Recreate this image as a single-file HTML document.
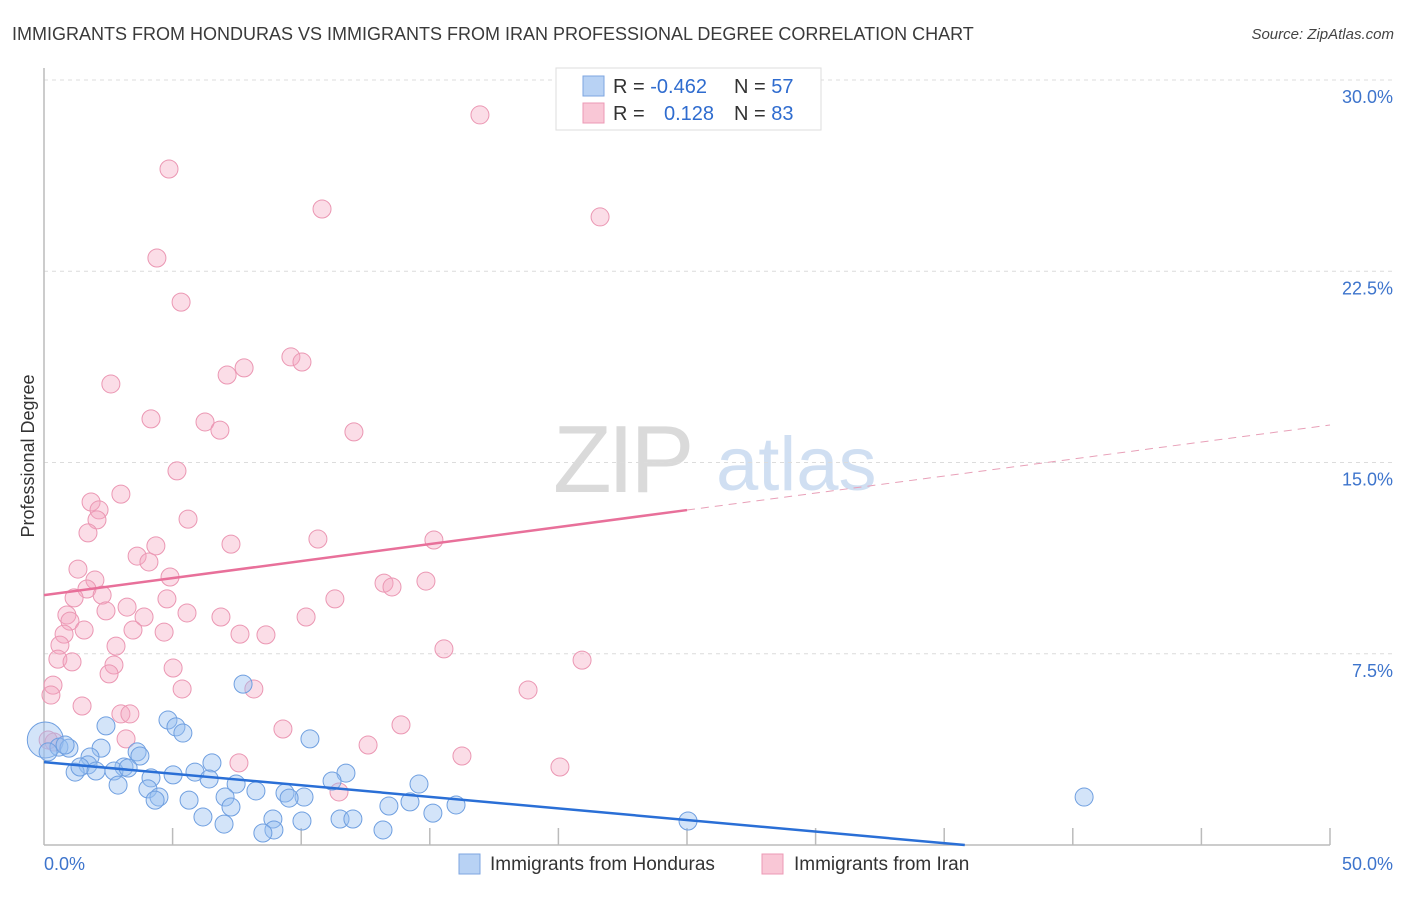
<!DOCTYPE html>
<html><head><meta charset="utf-8"><style>
body{margin:0;background:#fff;font-family:"Liberation Sans",sans-serif;}
svg text{font-family:"Liberation Sans",sans-serif;}
</style></head><body>
<svg id="chart" width="1406" height="892" viewBox="0 0 1406 892" xmlns="http://www.w3.org/2000/svg">
<text x="12" y="40" font-size="18" fill="#3a3a3a">IMMIGRANTS FROM HONDURAS VS IMMIGRANTS FROM IRAN PROFESSIONAL DEGREE CORRELATION CHART</text>
<text x="1394" y="39" font-size="15" fill="#444" font-style="italic" text-anchor="end">Source: ZipAtlas.com</text>
<text x="553" y="492" font-size="96" fill="#dadada" font-family="Liberation Serif, serif" letter-spacing="-4">ZIP</text>
<text x="716" y="490" font-size="76" fill="#d0dff2">atlas</text>
<g id="grid"></g>
<g id="axes"></g>
<text transform="translate(34,456) rotate(-90)" font-size="18" fill="#333" text-anchor="middle">Professional Degree</text>
<g id="marks"></g>
<g id="lines"></g>
<g>
<rect x="556" y="68" width="265" height="62" fill="#fff" stroke="#ddd"/>
<rect x="583" y="76" width="21" height="20" fill="#b8d2f4" stroke="#7ea6e0"/>
<rect x="583" y="103" width="21" height="20" fill="#f9c7d6" stroke="#ec9ab5"/>
<text x="613" y="93" font-size="20" fill="#333">R = <tspan fill="#2f6ccf">-0.462</tspan></text>
<text x="734" y="93" font-size="20" fill="#333">N = <tspan fill="#2f6ccf">57</tspan></text>
<text x="613" y="120" font-size="20" fill="#333">R = <tspan fill="#2f6ccf" x="664">0.128</tspan></text>
<text x="734" y="120" font-size="20" fill="#333">N = <tspan fill="#2f6ccf">83</tspan></text>
</g>
<g>
<rect x="459" y="854" width="21" height="20" fill="#b8d2f4" stroke="#7ea6e0"/>
<text x="490" y="870" font-size="19" fill="#333">Immigrants from Honduras</text>
<rect x="762" y="854" width="21" height="20" fill="#f9c7d6" stroke="#ec9ab5"/>
<text x="794" y="870" font-size="19" fill="#333">Immigrants from Iran</text>
</g>
</svg>
<script>
const xTicks=[5,10,15,20,25,30,35,40,45,50];
const yTicks=[7.5,15,22.5,30];
const yTickLabels=["7.5%","15.0%","22.5%","30.0%"];
const xEndLabels=["0.0%","50.0%"];
const pinkX=[16.95,4.86,10.81,21.62,4.39,5.33,9.60,10.03,7.78,7.12,2.60,4.16,6.26,6.84,12.05,5.17,2.99,1.83,2.14,2.06,5.60,1.71,7.27,10.65,15.16,4.35,3.62,4.08,1.32,4.90,1.98,13.22,14.85,13.53,1.67,2.26,1.17,4.78,11.31,3.23,0.89,2.41,5.56,3.89,1.01,6.88,10.19,1.56,0.78,3.46,4.67,7.62,8.63,2.80,0.62,15.55,0.54,1.09,2.72,20.92,5.02,2.53,5.37,8.16,18.82,0.35,0.27,1.48,2.99,3.34,9.29,13.88,3.19,7.58,12.60,16.25,20.06,11.47,0.39,0.16];
const pinkY=[28.63,26.51,24.94,24.63,23.02,21.29,19.14,18.94,18.71,18.43,18.08,16.71,16.59,16.27,16.20,14.67,13.76,13.45,13.14,12.75,12.78,12.24,11.80,12.00,11.96,11.73,11.33,11.10,10.82,10.51,10.39,10.27,10.35,10.12,10.04,9.80,9.69,9.65,9.65,9.33,9.02,9.18,9.10,8.94,8.78,8.94,8.94,8.43,8.27,8.43,8.35,8.27,8.24,7.80,7.84,7.69,7.29,7.18,7.06,7.25,6.94,6.71,6.12,6.12,6.08,6.27,5.88,5.45,5.14,5.14,4.55,4.71,4.16,3.22,3.92,3.49,3.06,2.08,4.04,4.12];
const blueX=[0.05,7.74,4.82,2.41,5.13,5.40,10.34,0.58,0.97,2.22,0.82,3.62,3.73,1.79,6.53,1.71,3.11,2.72,3.27,5.87,5.02,4.16,1.21,1.40,2.02,11.74,6.42,11.20,14.58,7.47,2.88,4.04,8.24,9.37,4.47,5.64,7.04,10.11,4.32,9.53,40.44,13.41,14.23,16.02,7.27,15.12,6.18,8.90,10.03,11.51,12.01,7.00,25.04,13.18,8.94,8.51,0.16];
const blueY=[4.12,6.31,4.90,4.67,4.63,4.39,4.16,3.84,3.80,3.80,3.92,3.65,3.49,3.45,3.22,3.14,3.06,2.90,3.02,2.86,2.75,2.63,2.86,3.06,2.90,2.82,2.59,2.51,2.39,2.39,2.35,2.20,2.12,2.04,1.88,1.76,1.88,1.88,1.76,1.84,1.88,1.53,1.69,1.57,1.49,1.25,1.10,1.02,0.94,1.02,1.02,0.82,0.94,0.59,0.59,0.47,3.65];
const blueWeight=[4,1,1,1,1,1,1,1,1,1,1,1,1,1,1,1,1,1,1,1,1,1,1,1,1,1,1,1,1,1,1,1,1,1,1,1,1,1,1,1,1,1,1,1,1,1,1,1,1,1,1,1,1,1,1,1,1];
const pinkTrend=[9.8,16.47]; // y at x=0 and x=50
const blueTrend=[3.25,-1.29];
const pinkSolidEnd=25, blueSolidEnd=35.8;

const NS="http://www.w3.org/2000/svg";
const X0=44,X1=1330,Y0=845,Y30=80;
const sx=v=>X0+(X1-X0)*v/50;
const sy=v=>Y0-(Y0-Y30)*v/30;
function mk(tag,attrs,parent){const e=document.createElementNS(NS,tag);for(const k in attrs)e.setAttribute(k,attrs[k]);document.getElementById(parent).appendChild(e);return e;}

yTicks.forEach((t,i)=>{
 const g=mk('line',{x1:X0,x2:1393,y1:sy(t),y2:sy(t),stroke:'#dcdcdc','stroke-dasharray':'4,4'},'grid');
 
 
 const l=mk('text',{x:1393,y:sy(t)+23,'font-size':18,fill:'#3d74cc','text-anchor':'end'},'grid');
 l.textContent=yTickLabels[i];
 
 
});
const ya=mk('line',{x1:X0,x2:X0,y1:68,y2:Y0,stroke:'#bbb','stroke-width':1.5},'axes');


const xa=mk('line',{x1:X0,x2:X1,y1:Y0,y2:Y0,stroke:'#bbb','stroke-width':1.5},'axes');


xTicks.forEach(t=>{
 const tk=mk('line',{x1:sx(t),x2:sx(t),y1:Y0-17,y2:Y0,stroke:'#bbb','stroke-width':1.5},'axes');
 
 
});
const xl0=mk('text',{x:X0,y:870,'font-size':18,fill:'#3d74cc'},'axes');xl0.textContent=xEndLabels[0];


const xl1=mk('text',{x:1393,y:870,'font-size':18,fill:'#3d74cc','text-anchor':'end'},'axes');xl1.textContent=xEndLabels[1];



pinkX.forEach((v,i)=>{
 const c=mk('circle',{cx:sx(v),cy:sy(pinkY[i]),r:9,fill:'rgba(244,165,192,0.38)',stroke:'#eb97b3','stroke-width':1},'marks');
 
 
});
blueX.forEach((v,i)=>{
 const c=mk('circle',{cx:sx(v),cy:sy(blueY[i]),r:9*Math.sqrt(blueWeight[i]),fill:'rgba(150,190,240,0.42)',stroke:'#6f9fe0','stroke-width':1},'marks');
 
 
});
const pf=x=>pinkTrend[0]+(pinkTrend[1]-pinkTrend[0])*x/50;
const bf=x=>blueTrend[0]+(blueTrend[1]-blueTrend[0])*x/50;
const p1=mk('line',{x1:sx(0),y1:sy(pf(0)),x2:sx(pinkSolidEnd),y2:sy(pf(pinkSolidEnd)),stroke:'#e8709a','stroke-width':2.5},'lines');


const p2=mk('line',{x1:sx(pinkSolidEnd),y1:sy(pf(pinkSolidEnd)),x2:sx(50),y2:sy(pf(50)),stroke:'#e8a0b8','stroke-width':1,'stroke-dasharray':'8,6'},'lines');


const b1=mk('line',{x1:sx(0),y1:sy(bf(0)),x2:sx(blueSolidEnd),y2:sy(bf(blueSolidEnd)),stroke:'#2a6fd6','stroke-width':2.5},'lines');


</script>
</body></html>
